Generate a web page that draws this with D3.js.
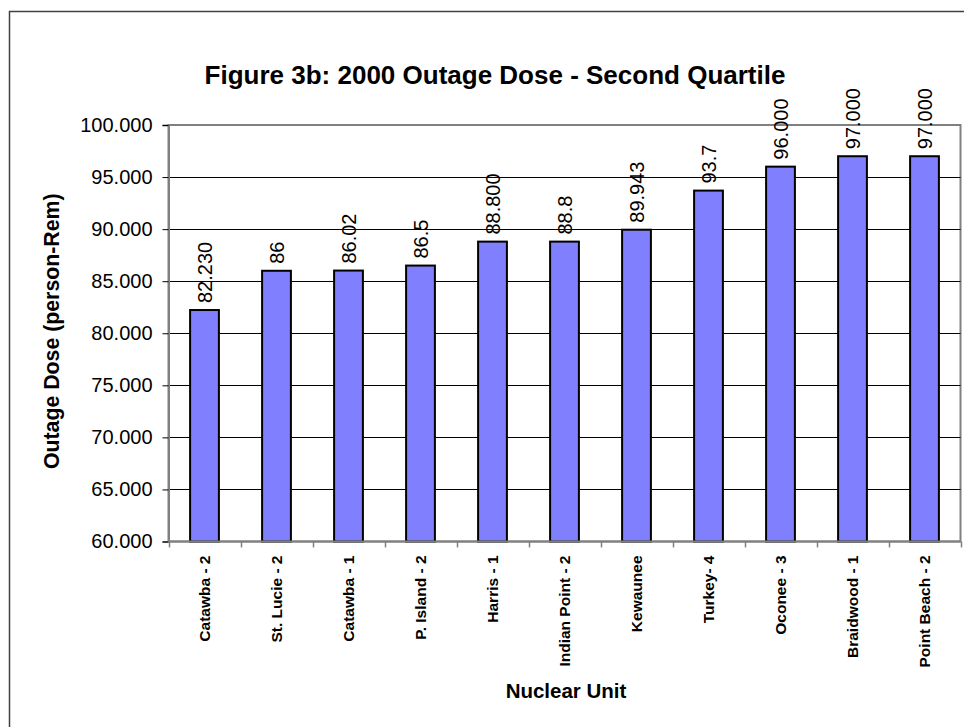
<!DOCTYPE html>
<html>
<head>
<meta charset="utf-8">
<script src="https://cdn.jsdelivr.net/npm/d3@7"></script>
<style>
  html, body { margin: 0; padding: 0; background: #fff; }
  svg { display: block; font-family: "Liberation Sans", Arial, sans-serif; }
</style>
</head>
<body>
<svg id="chart" width="964" height="727"></svg>
<script>
// ---- Data ----
const categories = ["Catawba - 2", "St. Lucie - 2", "Catawba - 1", "P. Island - 2", "Harris - 1",
  "Indian Point - 2", "Kewaunee", "Turkey- 4", "Oconee - 3", "Braidwood - 1", "Point Beach - 2"];
const values = [82.23, 86, 86.02, 86.5, 88.8, 88.8, 89.943, 93.7, 96.0, 97.0, 97.0];
const valueLabels = ["82.230", "86", "86.02", "86.5", "88.800", "88.8", "89.943", "93.7", "96.000", "97.000", "97.000"];
const yTicks = [60, 65, 70, 75, 80, 85, 90, 95, 100];
const titleText = "Figure 3b: 2000 Outage Dose - Second Quartile";
const xTitle = "Nuclear Unit";
const yTitle = "Outage Dose (person-Rem)";

// ---- Layout ----
const svg = d3.select("#chart");
const plot = { left: 168.5, right: 960.5, top: 125, bottom: 541.5 };

// outer chart border
svg.append("rect")
  .attr("x", 9.5).attr("y", 11.5).attr("width", 1000).attr("height", 1000)
  .attr("fill", "#fff").attr("stroke", "#404040").attr("stroke-width", 1.5);

const x = d3.scaleBand().domain(categories).range([plot.left, plot.right])
  .paddingInner(0.6).paddingOuter(0.3);
const y = d3.scaleLinear().domain([60, 100]).range([plot.bottom, plot.top]);

// plot area
svg.append("rect")
  .attr("x", plot.left).attr("y", plot.top)
  .attr("width", plot.right - plot.left).attr("height", plot.bottom - plot.top)
  .attr("fill", "#fff").attr("stroke", "#808080").attr("stroke-width", 2);

// gridlines
svg.append("g").selectAll("line")
  .data(yTicks.filter(t => t > 60 && t < 100))
  .join("line")
  .attr("x1", plot.left).attr("x2", plot.right)
  .attr("y1", d => Math.round(y(d)) + 0.5).attr("y2", d => Math.round(y(d)) + 0.5)
  .attr("stroke", "#000").attr("stroke-width", 1);

// bars
svg.append("g").selectAll("rect")
  .data(values)
  .join("rect")
  .attr("x", (d, i) => x(categories[i]))
  .attr("width", x.bandwidth())
  .attr("y", d => y(d))
  .attr("height", d => y(60) - y(d))
  .attr("fill", "#8080FF")
  .attr("stroke", "#000").attr("stroke-width", 2);

// value labels
svg.append("g").selectAll("text")
  .data(values)
  .join("text")
  .attr("transform", (d, i) => `translate(${x(categories[i]) + x.bandwidth() / 2},${y(d) - 7}) rotate(-90)`)
  .attr("dy", "0.35em")
  .attr("text-anchor", "start")
  .attr("font-size", 20)
  .attr("fill", "#000")
  .text((d, i) => valueLabels[i]);

// y axis
const yAxis = d3.axisLeft(y).tickValues(yTicks).tickFormat(d3.format(".3f")).tickSize(6).tickPadding(10);
const gy = svg.append("g").attr("transform", `translate(${plot.left},0)`).call(yAxis);
gy.select(".domain").attr("stroke", "#808080").attr("stroke-width", 2);
gy.selectAll(".tick line").attr("stroke", "#000");
gy.selectAll(".tick text").attr("font-size", 20).attr("fill", "#000")
  .attr("font-family", "\"Liberation Sans\", Arial, sans-serif");

// x axis
const xEdges = d3.scaleLinear().domain([0, categories.length]).range([plot.left, plot.right]);
const gx = svg.append("g");
gx.append("line").attr("x1", plot.left).attr("x2", plot.right)
  .attr("y1", plot.bottom).attr("y2", plot.bottom)
  .attr("stroke", "#808080").attr("stroke-width", 2);
gx.selectAll("line.tk").data(d3.range(categories.length + 1)).join("line")
  .attr("class", "tk")
  .attr("x1", d => Math.round(xEdges(d)) + 0.5).attr("x2", d => Math.round(xEdges(d)) + 0.5)
  .attr("y1", plot.bottom).attr("y2", plot.bottom + 6)
  .attr("stroke", "#808080").attr("stroke-width", 1.5);
gx.selectAll("text").data(categories).join("text")
  .attr("transform", d => `translate(${x(d) + x.bandwidth() / 2},${plot.bottom + 14}) rotate(-90)`)
  .attr("dy", "0.35em")
  .attr("text-anchor", "end")
  .attr("font-size", 15.5)
  .attr("font-weight", "bold")
  .attr("fill", "#000")
  .text(d => d);

// titles
svg.append("text").attr("x", 495).attr("y", 84).attr("text-anchor", "middle")
  .attr("font-size", 26).attr("font-weight", "bold").text(titleText);
svg.append("text").attr("x", 566).attr("y", 698).attr("text-anchor", "middle")
  .attr("font-size", 20.5).attr("font-weight", "bold").text(xTitle);
svg.append("text")
  .attr("transform", `translate(59,${(plot.top + plot.bottom) / 2 - 2}) rotate(-90)`)
  .attr("text-anchor", "middle")
  .attr("font-size", 21.3).attr("font-weight", "bold").text(yTitle);
</script>
</body>
</html>
